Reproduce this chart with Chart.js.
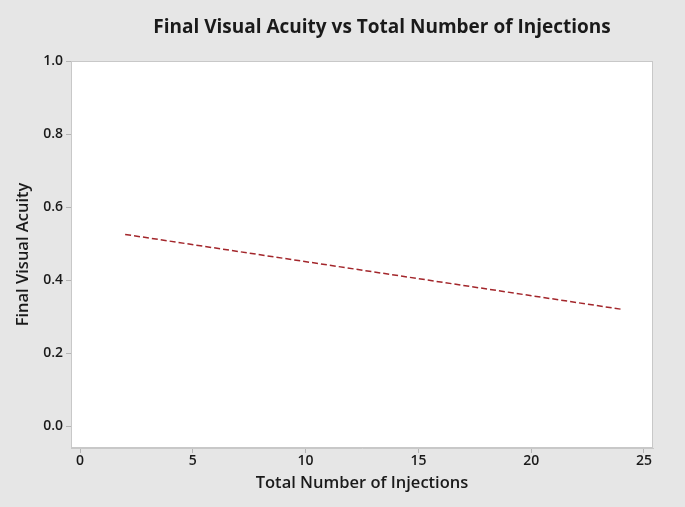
<!DOCTYPE html>
<html>
<head>
<meta charset="utf-8">
<script src="https://cdn.jsdelivr.net/npm/chart.js@4/dist/chart.umd.min.js"></script>
<style>
  html, body { margin: 0; padding: 0; background: #e6e6e6; }
  #wrap { width: 685px; height: 507px; }
</style>
</head>
<body>
<div id="wrap"><canvas id="chart" width="685" height="507"></canvas></div>
<script>
// fitted line end points
const injections = [2, 24];
const acuityFit = [0.525, 0.32];
const xTicks = [0, 5, 10, 15, 20, 25];
const yTicks = [0.0, 0.2, 0.4, 0.6, 0.8, 1.0];

const chartTitle = "Final Visual Acuity vs Total Number of Injections";
const xTitle = "Total Number of Injections";
const yTitle = "Final Visual Acuity";

const fontFam = "'Open Sans', 'Noto Sans', sans-serif";

let points = [];
for (let i = 0; i < injections.length; i++) {
	points.push({ x: injections[i], y: acuityFit[i] });
}

// gray page, white plot area, thin frame, title
const frame = {
	id: "frame",
	beforeDraw(chart) {
		const ctx = chart.ctx;
		const a = chart.chartArea;
		ctx.save();
		ctx.fillStyle = "#e6e6e6";
		ctx.fillRect(0, 0, chart.width, chart.height);
		ctx.fillStyle = "#ffffff";
		ctx.fillRect(a.left, a.top, a.right - a.left, a.bottom - a.top);
		ctx.restore();
	},
	afterDraw(chart) {
		const ctx = chart.ctx;
		const a = chart.chartArea;
		ctx.save();
		ctx.strokeStyle = "#c8c8c8";
		ctx.lineWidth = 1;
		ctx.strokeRect(a.left + 0.5, a.top + 0.5, a.right - a.left - 1, a.bottom - a.top - 1);
		ctx.fillStyle = "#1a1a1a";
		ctx.font = "bold 19px " + fontFam;
		ctx.textAlign = "center";
		ctx.textBaseline = "middle";
		ctx.fillText(chartTitle, 382, 28);
		ctx.restore();
	},
};

const tickFont = { family: fontFam, size: 14, weight: "600" };
const titleFont = { family: fontFam, size: 16.5, weight: "600" };

new Chart("chart", {
	type: "scatter",
	data: {
		datasets: [
			{
				data: points,
				showLine: true,
				borderColor: "#a3262b",
				borderWidth: 1.5,
				borderDash: [6, 3],
				pointRadius: 0,
				fill: false,
			},
		],
	},
	options: {
		responsive: false,
		animation: false,
		layout: { padding: { top: 61, right: 32, left: 0, bottom: 0 } },
		plugins: { legend: { display: false }, tooltip: { enabled: false } },
		scales: {
			x: {
				min: -0.4,
				max: 25.4,
				afterFit(s) { s.height = 59; },
				afterBuildTicks(s) { s.ticks = xTicks.map((v) => ({ value: v })); },
				grid: { drawOnChartArea: false, tickLength: 5, color: "#b4b4b4" },
				border: { color: "#c8c8c8" },
				ticks: { font: tickFont, color: "#1a1a1a", padding: 0, maxRotation: 0 },
				title: { display: true, text: xTitle, font: titleFont, color: "#1a1a1a", padding: { top: 0, bottom: 14 } },
			},
			y: {
				min: -0.06,
				max: 1.0,
				afterFit(s) { s.width = 71; },
				afterBuildTicks(s) { s.ticks = yTicks.map((v) => ({ value: v })); },
				grid: { drawOnChartArea: false, tickLength: 5, color: "#b4b4b4" },
				border: { color: "#c8c8c8" },
				ticks: {
					font: tickFont,
					color: "#1a1a1a",
					padding: 3,
					callback: (v) => v.toFixed(1),
				},
				title: { display: true, text: yTitle, font: titleFont, color: "#1a1a1a", padding: { top: 13, bottom: 0 } },
			},
		},
	},
	plugins: [frame],
});
</script>
</body>
</html>
